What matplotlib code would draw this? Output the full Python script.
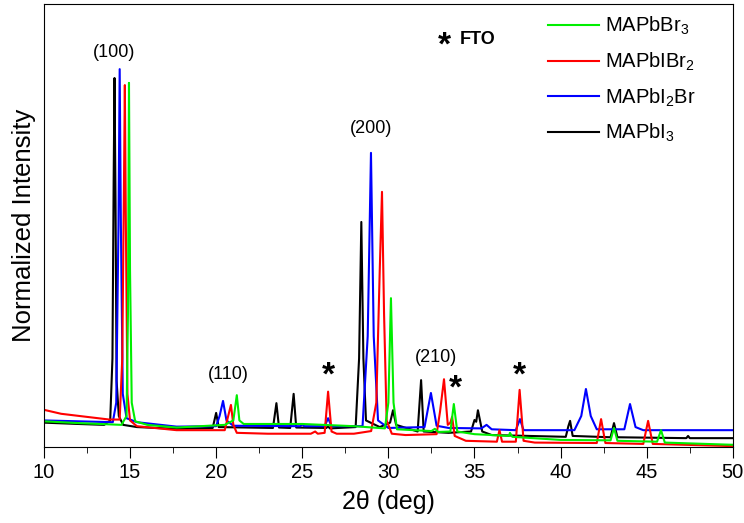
import matplotlib
matplotlib.use('Agg')
import matplotlib.pyplot as plt
from matplotlib.ticker import MultipleLocator

plt.rcParams['font.family'] = ['Liberation Sans', 'DejaVu Sans']
plt.rcParams['mathtext.fontset'] = 'custom'
plt.rcParams['mathtext.rm'] = 'Liberation Sans'

# XRD patterns (2theta in deg, normalized intensity)
mapbi3_x = [10.0, 12.0, 13.5, 13.85, 13.98, 14.05, 14.10, 14.16, 14.22, 14.35, 14.6, 15.4,
            17.7, 19.8, 20.0, 20.15, 23.3, 23.5, 23.65, 24.3, 24.5, 24.65, 26.4, 26.5,
            26.6, 28.1, 28.3, 28.43, 28.55, 28.7, 29.5, 30.1, 30.27, 30.45, 31.7, 31.9,
            32.05, 33.5, 34.8, 35.0, 35.1, 35.2, 35.45, 36.0, 40.3, 40.45, 40.55, 40.7,
            42.9, 43.1, 43.3, 47.3, 47.4, 47.5, 50.0]
mapbi3_y = [0.055, 0.052, 0.050, 0.060, 0.20, 0.60, 0.833, 0.55, 0.15, 0.07, 0.050, 0.045,
            0.041, 0.043, 0.077, 0.045, 0.043, 0.099, 0.044, 0.043, 0.120, 0.044, 0.043, 0.047,
            0.042, 0.045, 0.20, 0.508, 0.20, 0.06, 0.045, 0.055, 0.083, 0.050, 0.035, 0.151,
            0.035, 0.032, 0.035, 0.061, 0.057, 0.083, 0.035, 0.027, 0.023, 0.047, 0.059, 0.025,
            0.022, 0.054, 0.022, 0.020, 0.025, 0.020, 0.020]

mapbi2br_x = [10.0, 12.0, 14.0, 14.2, 14.33, 14.40, 14.47, 14.58, 14.8, 15.4, 17.7, 20.0,
              20.2, 20.4, 20.6, 21.0, 24.9, 25.0, 25.1, 26.3, 26.5, 26.7, 28.5, 28.8,
              28.99, 29.15, 29.4, 30.0, 32.1, 32.47, 32.8, 33.5, 35.4, 35.7, 36.0, 37.4,
              37.64, 37.85, 40.8, 41.2, 41.47, 41.75, 42.1, 43.7, 44.03, 44.35, 44.8, 50.0]
mapbi2br_y = [0.060, 0.058, 0.056, 0.10, 0.50, 0.853, 0.50, 0.12, 0.065, 0.056, 0.046, 0.047,
              0.07, 0.104, 0.06, 0.048, 0.047, 0.052, 0.047, 0.047, 0.065, 0.047, 0.047, 0.25,
              0.664, 0.25, 0.06, 0.043, 0.045, 0.122, 0.048, 0.043, 0.042, 0.050, 0.040, 0.038,
              0.063, 0.038, 0.038, 0.07, 0.131, 0.07, 0.040, 0.040, 0.097, 0.045, 0.038, 0.038]

mapbibr2_x = [10.0, 11.0, 12.5, 13.8, 14.4, 14.55, 14.65, 14.70, 14.76, 14.85, 15.0, 15.4,
              17.7, 20.5, 20.7, 20.86, 21.0, 21.2, 23.0, 25.5, 25.75, 25.9, 26.3, 26.5,
              26.7, 27.0, 28.0, 29.0, 29.3, 29.5, 29.63, 29.75, 29.9, 30.2, 31.0, 32.8,
              33.0, 33.23, 33.45, 33.6, 33.7, 33.85, 34.5, 36.3, 36.45, 36.6, 37.4, 37.62,
              37.85, 38.5, 42.1, 42.35, 42.6, 44.8, 45.08, 45.35, 50.0]
mapbibr2_y = [0.084, 0.075, 0.068, 0.062, 0.062, 0.20, 0.60, 0.817, 0.50, 0.12, 0.060, 0.047,
              0.038, 0.038, 0.07, 0.095, 0.050, 0.032, 0.030, 0.030, 0.035, 0.030, 0.032, 0.125,
              0.035, 0.030, 0.030, 0.036, 0.10, 0.40, 0.576, 0.30, 0.06, 0.030, 0.027, 0.029,
              0.08, 0.153, 0.050, 0.055, 0.068, 0.025, 0.014, 0.012, 0.038, 0.012, 0.012, 0.129,
              0.014, 0.010, 0.009, 0.063, 0.009, 0.007, 0.059, 0.007, 0.002]

mapbbr3_x = [10.0, 12.0, 14.5, 14.8, 14.88, 14.94, 15.0, 15.1, 15.3, 16.0, 17.7, 20.5,
             21.0, 21.2, 21.35, 21.6, 25.0, 28.0, 29.8, 30.0, 30.15, 30.3, 30.5, 32.5,
             32.7, 32.9, 33.6, 33.8, 34.0, 35.0, 37.0, 37.06, 37.2, 40.0, 42.9, 43.1,
             43.3, 45.6, 45.83, 46.05, 50.0]
mapbbr3_y = [0.058, 0.054, 0.050, 0.07, 0.30, 0.822, 0.40, 0.10, 0.058, 0.050, 0.044, 0.050,
             0.06, 0.117, 0.06, 0.052, 0.052, 0.047, 0.042, 0.10, 0.336, 0.10, 0.040, 0.036,
             0.041, 0.034, 0.035, 0.097, 0.035, 0.029, 0.025, 0.032, 0.023, 0.016, 0.015, 0.043,
             0.014, 0.012, 0.038, 0.010, 0.005]

# peak labels and FTO markers
hkl_labels = ['(100)', '(110)', '(200)', '(210)']
hkl_x = [14.05, 20.7, 29.0, 32.75]
hkl_y = [0.872, 0.145, 0.70, 0.182]
fto_x = [26.5, 33.9, 37.6]
fto_y = [0.126, 0.096, 0.126]

fig = plt.figure(figsize=(7.44, 5.23), dpi=100)
ax = fig.add_axes([0.059, 0.1453, 0.926, 0.847])

ax.plot(mapbi3_x, mapbi3_y, color='black', lw=1.5, label='MAPbI$_\\mathregular{3}$')
ax.plot(mapbi2br_x, mapbi2br_y, color='#0000ff', lw=1.5, label='MAPbI$_\\mathregular{2}$Br')
ax.plot(mapbibr2_x, mapbibr2_y, color='#ff0000', lw=1.5, label='MAPbIBr$_\\mathregular{2}$')
ax.plot(mapbbr3_x, mapbbr3_y, color='#00ee00', lw=1.5, label='MAPbBr$_\\mathregular{3}$')

for lab, x, y in zip(hkl_labels, hkl_x, hkl_y):
    ax.text(x, y, lab, ha='center', va='bottom', fontsize=13)
for x, y in zip(fto_x, fto_y):
    ax.text(x, y, '*', ha='center', va='bottom', fontsize=24, fontweight='bold')
ax.text(0.581, 0.905, '*', transform=ax.transAxes, ha='center', va='center',
        fontsize=24, fontweight='bold')
ax.text(0.603, 0.92, 'FTO', transform=ax.transAxes, ha='left', va='center',
        fontsize=13, fontweight='bold')

handles, labels = ax.get_legend_handles_labels()
ax.legend(handles[::-1], labels[::-1], loc='upper right', bbox_to_anchor=(0.962, 1.0),
          frameon=False, fontsize=14.5, handlelength=2.5, labelspacing=0.66,
          handletextpad=0.3, borderaxespad=0.15)

ax.set_xlim(10, 50)
ax.set_ylim(0, 1)
ax.xaxis.set_major_locator(MultipleLocator(5))
ax.xaxis.set_minor_locator(MultipleLocator(2.5))
ax.tick_params(axis='x', which='major', direction='out', length=8, labelsize=14.5)
ax.tick_params(axis='x', which='minor', direction='out', length=4.5)
ax.set_yticks([])
ax.set_xlabel('2θ (deg)', fontsize=18, labelpad=6)
ax.set_ylabel('Normalized Intensity', fontsize=18.5, labelpad=6)

fig.savefig('out.png', dpi=100)
